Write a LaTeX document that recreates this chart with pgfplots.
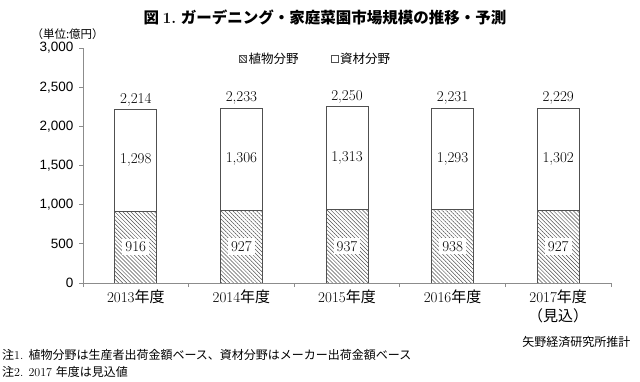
\documentclass[border=0pt]{standalone}
\usepackage{fontspec}
\usepackage{pgfplots}
\pgfplotsset{compat=1.18}
\usetikzlibrary{patterns.meta}
\newfontfamily\jp{Noto Sans CJK JP}
\newfontfamily\arial{Liberation Sans}
\definecolor{axgray}{HTML}{8C8C8C}
\definecolor{bardraw}{HTML}{505050}
\definecolor{hatch}{HTML}{505050}

\pgfplotstableread{
x plant material
0 916 1298
1 927 1306
2 937 1313
3 938 1293
4 927 1302
}\datatable

\pgfplotstableread{
x y l
0 458 916
1 463.5 927
2 468.5 937
3 469 938
4 463.5 927
}\lowlabels

\pgfplotstableread{
x y l
0 1565 1,298
1 1580 1,306
2 1593.5 1,313
3 1584.5 1,293
4 1578 1,302
}\uplabels

\pgfplotstableread{
x y l
0 2214 2,214
1 2233 2,233
2 2250 2,250
3 2231 2,231
4 2229 2,229
}\totlabels

\begin{document}
\begin{tikzpicture}
\useasboundingbox (0bp,0bp) rectangle (640bp,382bp);
\begin{axis}[
  at={(83bp,99bp)}, anchor=south west,
  scale only axis, width=528bp, height=235bp,
  ybar stacked, bar width=42bp,
  xmin=-0.5, xmax=4.5, ymin=0, ymax=3000,
  xtick={-0.5,0.5,1.5,2.5,3.5,4.5},
  xticklabels={{},{},{},{},{},{}},
  extra x ticks={0,1,2,3,4},
  extra x tick labels={{2013{\jp 年度}},{2014{\jp 年度}},{2015{\jp 年度}},{2016{\jp 年度}},{2017{\jp 年度}\\{\jp （見込）}}},
  extra x tick style={major tick length=0pt, xticklabel style={align=center, font=\fontsize{15bp}{19bp}\selectfont, yshift=-3bp}},
  ytick={0,500,...,3000},
  axis x line=bottom, axis y line=left,
  axis line style={-, draw=axgray, line width=0.8pt},
  tick style={draw=axgray, line width=0.8pt},
  tick align=outside, major tick length=4bp,
  /pgf/number format/.cd, 1000 sep={,}, assume math mode=true, /pgfplots/.cd,
  yticklabel style={font=\arial\fontsize{13.5bp}{16bp}\selectfont, xshift=-2bp},
  legend columns=2,
  legend style={at={(axis description cs:0.295,0.953)}, anchor=west, draw=none, fill=none,
    inner xsep=0pt, font=\jp\fontsize{12.5bp}{14bp}\selectfont,
    /tikz/every even column/.append style={column sep=30bp}},
  legend cell align=left,
]
\addplot[draw=bardraw, line width=0.9pt, fill=white,
  postaction={pattern={Lines[angle=-45,distance=2.8bp,line width=0.5bp]}, pattern color=hatch},
  legend image code/.code={\draw[draw=bardraw, line width=0.6pt, fill=white, postaction={pattern={Lines[angle=-45,distance=2.2bp,line width=0.5bp]}, pattern color=hatch}] (0bp,-3.5bp) rectangle (7bp,3.5bp);}]
  table[x=x, y=plant] {\datatable};
\addlegendentry{植物分野}
\addplot[draw=bardraw, line width=0.9pt, fill=white,
  legend image code/.code={\draw[draw=bardraw, line width=0.6pt, fill=white] (0bp,-3.5bp) rectangle (7bp,3.5bp);}]
  table[x=x, y=material] {\datatable};
\addlegendentry{資材分野}
\end{axis}
\begin{axis}[
  at={(83bp,99bp)}, anchor=south west,
  scale only axis, width=528bp, height=235bp,
  xmin=-0.5, xmax=4.5, ymin=0, ymax=3000,
  hide axis, clip=false,
]
\addplot[draw=none, mark=none, nodes near coords, point meta=explicit symbolic,
  nodes near coords style={anchor=center, fill=white, inner xsep=3bp, inner ysep=3bp, font=\fontsize{15bp}{17bp}\selectfont}]
  table[x=x, y=y, meta=l] {\lowlabels};
\addplot[draw=none, mark=none, nodes near coords, point meta=explicit symbolic,
  nodes near coords style={anchor=center, font=\fontsize{15bp}{17bp}\selectfont}]
  table[x=x, y=y, meta=l] {\uplabels};
\addplot[draw=none, mark=none, nodes near coords, point meta=explicit symbolic,
  nodes near coords style={anchor=south, font=\fontsize{15bp}{17bp}\selectfont}]
  table[x=x, y=y, meta=l] {\totlabels};
\end{axis}
\node[font=\jp\bfseries\fontsize{15.5bp}{18bp}\selectfont] at (325bp,365bp) {図 {\rmfamily 1.} ガーデニング・家庭菜園市場規模の推移・予測};
\node[anchor=west, font=\jp\fontsize{11.5bp}{13bp}\selectfont] at (28bp,348bp) {（単位:億円）};
\node[anchor=east, font=\jp\fontsize{12bp}{14bp}\selectfont] at (634bp,40bp) {矢野経済研究所推計};
\node[anchor=west, font=\fontsize{12bp}{14bp}\selectfont, inner xsep=0pt] at (2bp,27bp) {{\jp 注}1. {\jp 植物分野は生産者出荷金額ベース、資材分野はメーカー出荷金額ベース}};
\node[anchor=west, font=\fontsize{12bp}{14bp}\selectfont, inner xsep=0pt] at (2bp,10bp) {{\jp 注}2. 2017 {\jp 年度は見込値}};
\end{tikzpicture}
\end{document}
